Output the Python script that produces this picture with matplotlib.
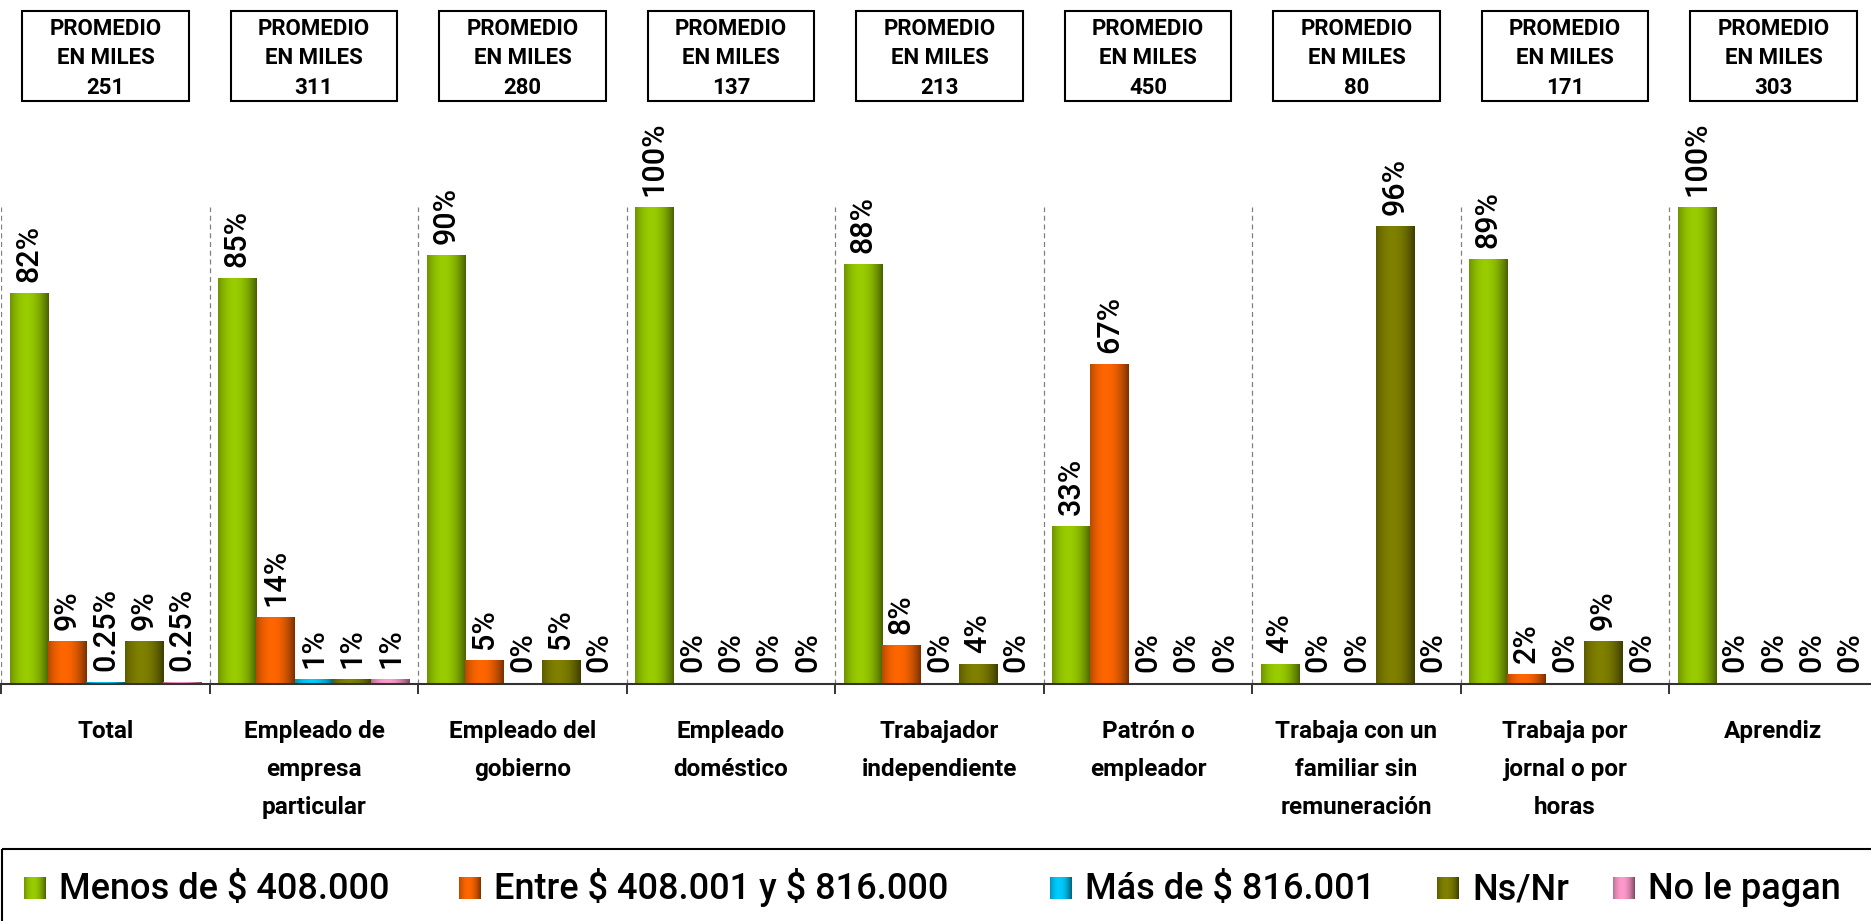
import numpy as np
import matplotlib.pyplot as plt
import matplotlib.colors as mcolors
import matplotlib.transforms as mtransforms
from matplotlib.patches import Rectangle

plt.rcParams['font.family'] = ['Roboto', 'DejaVu Sans']

categorias = ["Total", "Empleado de\nempresa\nparticular", "Empleado del\ngobierno",
              "Empleado\ndoméstico", "Trabajador\nindependiente", "Patrón o\nempleador",
              "Trabaja con un\nfamiliar sin\nremuneración", "Trabaja por\njornal o por\nhoras",
              "Aprendiz"]
promedio_miles = [251, 311, 280, 137, 213, 450, 80, 171, 303]

series = ["Menos de $ 408.000", "Entre $ 408.001 y $ 816.000", "Más de $ 816.001",
          "Ns/Nr", "No le pagan"]
menos_408 = [82, 85, 90, 100, 88, 33, 4, 89, 100]
entre_408_816 = [9, 14, 5, 0, 8, 67, 0, 2, 0]
mas_816 = [0.25, 1, 0, 0, 0, 0, 0, 0, 0]
ns_nr = [9, 1, 5, 0, 4, 0, 96, 9, 0]
no_le_pagan = [0.25, 1, 0, 0, 0, 0, 0, 0, 0]
valores = [menos_408, entre_408_816, mas_816, ns_nr, no_le_pagan]
colores = ["#99CC00", "#FF6600", "#00CCFF", "#808000", "#FF99CC"]


def sombra(color, n=64):
    # dark edges, light centre: cylinder look of the bars
    c = np.array(mcolors.to_rgb(color))
    t = np.linspace(0, 1, n)
    w = np.clip(1 - ((t - 0.42) / 0.62) ** 2, 0, 1)
    oscuro = c * 0.4
    fila = oscuro + (c - oscuro) * w[:, None]
    return fila[None, :, :]


W, H = 1871, 921
fig = plt.figure(figsize=(W / 100, H / 100), dpi=100)
ax = fig.add_axes([1.2 / W, 1 - 683.6 / H, 1876.5 / W, (683.6 - 207) / H])

x = np.arange(len(categorias))
ancho = 0.1837
for k, (vals, col) in enumerate(zip(valores, colores)):
    barras = ax.bar(x + (k - 2) * ancho, vals, ancho, color='none', edgecolor='none')
    grad = sombra(col)
    for b, v in zip(barras, vals):
        x0, y0 = b.get_xy()
        w, h = b.get_width(), b.get_height()
        if h > 0:
            ax.imshow(grad, extent=[x0, x0 + w, y0, y0 + h], aspect='auto',
                      interpolation='bilinear', zorder=2)
        ax.annotate(f"{v:g}%", (x0 + w / 2, h), xytext=(0, 8), textcoords='offset points',
                    rotation=90, ha='center', va='bottom', fontsize=22, fontweight='medium',
                    annotation_clip=False)

ax.set_xlim(-0.5, len(categorias) - 0.5)
ax.set_ylim(0, 100)

# separators between groups, labels in the middle
ax.set_xticks(np.arange(-0.5, len(categorias), 1))
ax.set_xticklabels([])
ax.set_xticks(x, categorias, minor=True)
ax.tick_params(axis='x', which='major', length=7.2, width=1.4, direction='out', color='#333333')
ax.tick_params(axis='x', which='minor', length=0, pad=26, labelsize=17.5)
for lbl in ax.get_xticklabels(minor=True):
    lbl.set_fontweight('bold')
    lbl.set_linespacing(1.85)
ax.xaxis.grid(True, which='major', linestyle=(0, (4, 3)), color='#808080', linewidth=0.9)
ax.set_yticks([])
for s in ['left', 'right', 'top']:
    ax.spines[s].set_visible(False)
ax.spines['bottom'].set_linewidth(1.5)
ax.spines['bottom'].set_color('#333333')

# average income boxes above each group
trans = mtransforms.blended_transform_factory(ax.transData, fig.transFigure)
caja_w = 0.80
for xi, p in zip(x, promedio_miles):
    ax.add_patch(Rectangle((xi - caja_w / 2, 1 - 101 / H), caja_w, 90 / H, transform=trans,
                           fill=False, edgecolor='black', linewidth=1.5, clip_on=False))
    ax.text(xi, 1 - 58.5 / H, f"PROMEDIO\nEN MILES\n{p}", transform=trans, ha='center',
            va='center', fontsize=16, fontweight='bold', linespacing=1.45)

# legend strip at the bottom
lax = fig.add_axes([0, 0, 1, 1])
lax.set_xlim(0, W)
lax.set_ylim(H, 0)
lax.axis('off')
lax.add_patch(Rectangle((2, 849), W + 20, 100, fill=False, edgecolor='black', linewidth=1.5,
                        clip_on=False))
ley_x = [24, 459, 1050, 1437, 1613]
for lx, nombre, col in zip(ley_x, series, colores):
    lax.imshow(sombra(col), extent=[lx, lx + 22, 899, 877], aspect='auto',
               interpolation='bilinear')
    lax.text(lx + 35, 899, nombre, fontsize=26, fontweight='medium', va='baseline',
             ha='left', parse_math=False)
lax.set_xlim(0, W)
lax.set_ylim(H, 0)

fig.savefig("out.png", dpi=100)
